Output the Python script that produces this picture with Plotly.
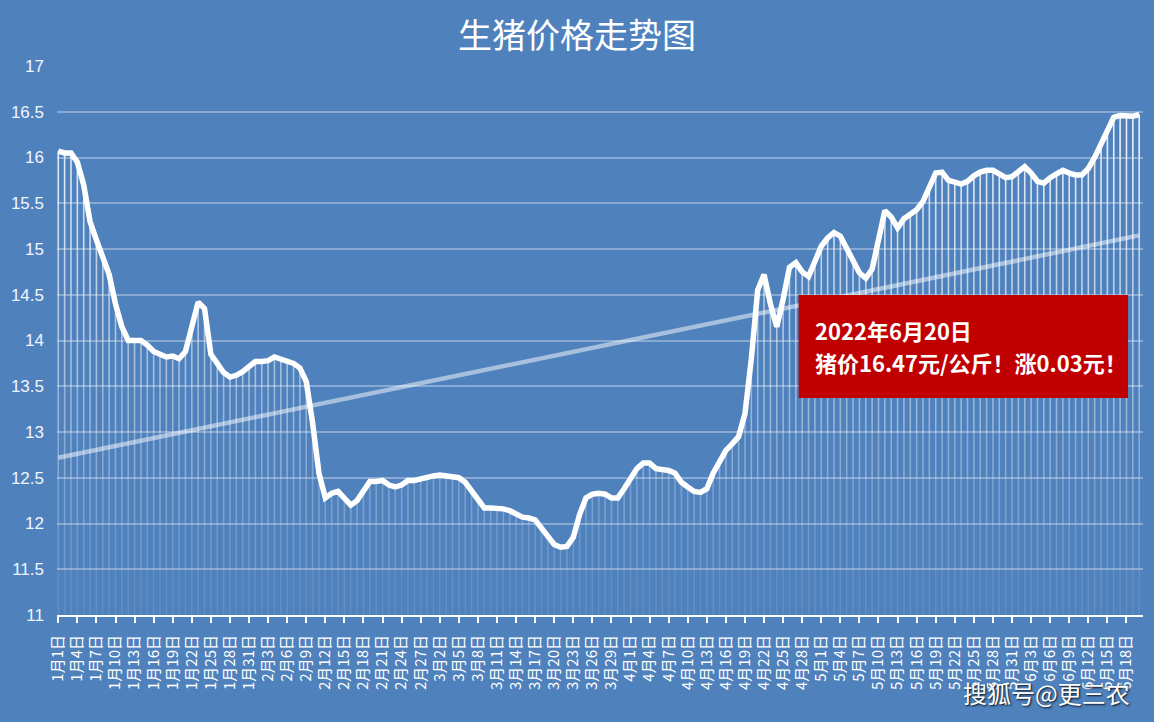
import numpy as np
import plotly.graph_objects as go

# ---------------- data ----------------
month_names = ["1月", "2月", "3月", "4月", "5月", "6月"]
month_days = [31, 28, 31, 30, 31, 20]

price_jan = [16.07, 16.05, 16.05, 15.95, 15.70, 15.30, 15.10, 14.90, 14.72, 14.40,
             14.15, 14.00, 14.00, 14.00, 13.95, 13.88, 13.85, 13.82, 13.83, 13.80,
             13.88, 14.15, 14.42, 14.35, 13.85, 13.75, 13.65, 13.60, 13.62, 13.66, 13.72]
price_feb = [13.77, 13.77, 13.78, 13.82, 13.80, 13.77, 13.75, 13.70, 13.55, 13.10,
             12.55, 12.28, 12.33, 12.35, 12.28, 12.20, 12.25, 12.35, 12.46, 12.46,
             12.47, 12.42, 12.40, 12.42, 12.47, 12.47, 12.49, 12.50]
price_mar = [12.52, 12.53, 12.52, 12.52, 12.50, 12.45, 12.35, 12.25, 12.17, 12.17,
             12.17, 12.16, 12.14, 12.10, 12.07, 12.06, 12.04, 11.95, 11.85, 11.77,
             11.74, 11.75, 11.85, 12.10, 12.28, 12.32, 12.33, 12.32, 12.28, 12.28, 12.38]
price_apr = [12.50, 12.60, 12.66, 12.66, 12.60, 12.59, 12.58, 12.55, 12.45, 12.40,
             12.35, 12.34, 12.38, 12.55, 12.68, 12.80, 12.87, 12.95, 13.20, 13.80,
             14.55, 14.72, 14.40, 14.15, 14.45, 14.80, 14.85, 14.75, 14.70, 14.88]
price_may = [15.03, 15.12, 15.18, 15.14, 15.00, 14.85, 14.74, 14.68, 14.78, 15.10,
             15.42, 15.35, 15.23, 15.33, 15.39, 15.43, 15.52, 15.66, 15.83, 15.84,
             15.75, 15.73, 15.71, 15.74, 15.80, 15.84, 15.86, 15.86, 15.82, 15.78, 15.79]
price_jun = [15.84, 15.90, 15.83, 15.74, 15.72, 15.78, 15.82, 15.86, 15.83, 15.81,
             15.81, 15.88, 16.00, 16.15, 16.30, 16.44, 16.46, 16.46, 16.45, 16.47]

y_ticks = [11, 11.5, 12, 12.5, 13, 13.5, 14, 14.5, 15, 15.5, 16, 16.5, 17]

title_text = "生猪价格走势图"
note_line1 = "2022年6月20日"
note_line2 = "猪价16.47元/公斤！涨0.03元！"
watermark = "搜狐号@更三农"

# ---------------- build ----------------
dates = [f"{m}{d}日" for m, n in zip(month_names, month_days) for d in range(1, n + 1)]
prices = price_jan + price_feb + price_mar + price_apr + price_may + price_jun
n = len(dates)

BG = "#4f81bd"
FONT = "Noto Sans CJK SC"

fig = go.Figure()

# drop lines, faded towards the bottom (banded opacity)
bands = y_ticks
for k in range(len(bands) - 1):
    lo, hi = bands[k], bands[k + 1]
    xs, ys = [], []
    for d, v in zip(dates, prices):
        if v > lo:
            xs += [d, d, None]
            ys += [lo, min(v, hi), None]
    alpha = 0.10 + 0.85 * (k / (len(bands) - 2))
    fig.add_trace(go.Scatter(x=xs, y=ys, mode="lines", hoverinfo="skip",
                             line=dict(color=f"rgba(255,255,255,{alpha:.2f})", width=1.6),
                             connectgaps=False, showlegend=False))

# linear trend
idx = np.arange(n)
coef = np.polyfit(idx, np.array(prices), 1)
trend = np.polyval(coef, idx)
fig.add_trace(go.Scatter(x=dates, y=trend, mode="lines", hoverinfo="skip",
                         line=dict(color="rgba(255,255,255,0.5)", width=4.5),
                         showlegend=False))

# main price line
fig.add_trace(go.Scatter(x=dates, y=prices, mode="lines",
                         line=dict(color="white", width=5.5),
                         showlegend=False))

fig.update_layout(
    width=1154, height=722,
    margin=dict(l=55, r=11, t=66, b=107),
    paper_bgcolor=BG, plot_bgcolor=BG,
    font=dict(family=FONT, color="white"),
    title=dict(text=title_text, x=0.5, xanchor="center", y=1 - 36 / 722, yanchor="middle",
               font=dict(size=34, color="white", family=FONT)),
    showlegend=False,
)

fig.update_xaxes(
    type="category", range=[-0.2, n - 0.4],
    tickmode="array", tickvals=dates[::3], ticktext=dates[::3],
    tickangle=-90, tickfont=dict(size=15, color="white", family=FONT),
    ticks="outside", ticklen=6, tickwidth=2, tickcolor="white",
    showline=True, linecolor="white", linewidth=2,
    showgrid=False, ticklabelstandoff=6,
)
fig.update_yaxes(
    range=[11, 17], tickmode="array", tickvals=y_ticks,
    ticktext=[f"{t:g}" for t in y_ticks],
    tickfont=dict(size=17, color="#f2f6ff", family="Liberation Sans"),
    showgrid=True, gridcolor="rgba(255,255,255,0.33)", gridwidth=2,
    zeroline=False, showline=False, ticks="", ticklabelstandoff=12,
)

# red note box
fig.add_shape(type="rect", xref="paper", yref="paper",
              x0=(798 - 55) / 1088, x1=(1128 - 55) / 1088,
              y0=(615 - 398) / 549, y1=(615 - 295) / 549,
              fillcolor="#c00000", line=dict(width=0), layer="above")
fig.add_annotation(xref="paper", yref="paper", x=(812 - 55) / 1088, y=(615 - 330) / 549,
                   xanchor="left", yanchor="middle", showarrow=False,
                   text=f"<b>{note_line1}</b>", font=dict(size=22, color="white", family=FONT))
fig.add_annotation(xref="paper", yref="paper", x=(812 - 55) / 1088, y=(615 - 362) / 549,
                   xanchor="left", yanchor="middle", showarrow=False,
                   text=f"<b>{note_line2}</b>", font=dict(size=22, color="white", family=FONT))

# watermark
fig.add_annotation(xref="paper", yref="paper", x=(1132 - 55) / 1088, y=(615 - 692) / 549,
                   xanchor="right", yanchor="middle", showarrow=False, text=watermark,
                   font=dict(size=24, color="white", family=FONT,
                             shadow="1px 1px 2px rgba(0,0,0,0.9)"))

fig.write_html("out.html", config={"displayModeBar": False},
               post_script="document.body.style.margin='0';")
